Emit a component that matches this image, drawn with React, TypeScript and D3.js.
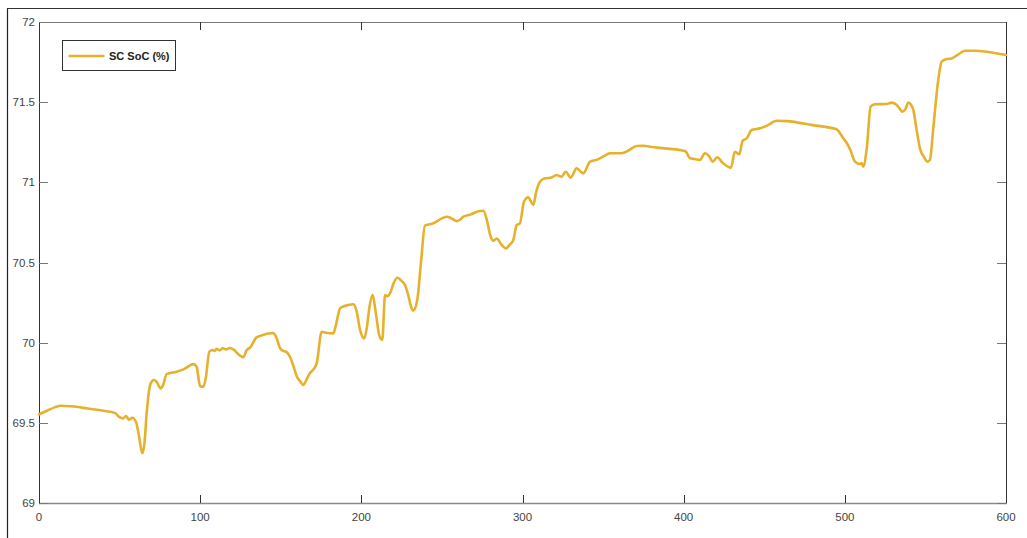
import React, { useEffect, useRef } from "react";
import * as d3 from "d3";

// Supercapacitor state of charge over time
const timeSec: number[] = [
  0, 5, 10, 14, 20, 30, 40, 47, 50, 52, 54, 55.8, 57.9, 60.2, 62, 64.1, 65.5, 66.8, 69.3, 71.4,
  73, 75.5, 77, 79.2, 85.4, 90, 95.8, 97.8, 99.9, 102, 103.5, 105.7, 107.8, 109, 110.2, 112, 114,
  116, 118.5, 121, 124, 126.8, 128.9, 131, 135, 139, 145, 147, 149.5, 151.6, 153, 155.7, 158,
  159.9, 162, 164, 166, 168.1, 170, 172.3, 175.4, 178, 182.6, 184, 186.8, 190, 195, 197, 199.2,
  201.8, 203.5, 205, 207, 208.5, 209.9, 211, 213, 214.7, 216, 217.8, 220, 222.3, 225, 227.1, 229,
  231, 232.3, 234.7, 237, 239.5, 244.7, 250, 253, 256, 259.2, 261, 263.3, 268, 272.6, 275.7, 278,
  280, 281.9, 284, 287, 289.8, 292, 294.3, 296.4, 298.4, 300.9, 303.6, 305, 306.7, 308.5, 310.8,
  314, 318, 321.2, 322.5, 324.3, 326.8, 329.9, 333.6, 337.7, 341.9, 346, 350, 354.3, 361.5, 366,
  370.8, 375, 379.1, 390, 399.8, 401.5, 403.9, 407, 410.1, 413.2, 416, 418, 420.8, 424.2, 429.3,
  431.8, 434.5, 436.6, 439.1, 442.2, 447.4, 452, 457.7, 463.9, 480, 494.9, 497, 499, 501.1, 503.5,
  506.3, 509.4, 510.5, 511.4, 513.6, 516, 518.7, 526, 529.1, 532.2, 534, 535.7, 537.5, 539.4, 541,
  542.5, 544.5, 546.6, 549, 551.4, 552.8, 555, 557.5, 560.1, 563.2, 566.3, 570, 574.5, 579.7, 600,
];

const socPct: number[] = [
  69.553, 69.575, 69.598, 69.607, 69.603, 69.59, 69.575, 69.562, 69.535, 69.527, 69.543, 69.52,
  69.532, 69.505, 69.42, 69.31, 69.38, 69.56, 69.746, 69.767, 69.755, 69.715, 69.735, 69.804,
  69.819, 69.835, 69.866, 69.85, 69.73, 69.725, 69.78, 69.944, 69.954, 69.948, 69.962, 69.952,
  69.965, 69.958, 69.967, 69.955, 69.925, 69.909, 69.954, 69.97, 70.033, 70.048, 70.06, 70.04,
  69.968, 69.948, 69.945, 69.912, 69.85, 69.79, 69.76, 69.736, 69.77, 69.81, 69.83, 69.871,
  70.068, 70.062, 70.058, 70.1, 70.214, 70.23, 70.24, 70.2, 70.08, 70.027, 70.1, 70.22, 70.297,
  70.22, 70.12, 70.05, 70.017, 70.297, 70.29, 70.308, 70.37, 70.405, 70.385, 70.36, 70.3, 70.22,
  70.2, 70.266, 70.5, 70.73, 70.745, 70.775, 70.785, 70.775, 70.758, 70.765, 70.786, 70.8, 70.82,
  70.823, 70.76, 70.67, 70.636, 70.65, 70.61, 70.588, 70.61, 70.64, 70.734, 70.744, 70.879,
  70.907, 70.885, 70.859, 70.94, 71.004, 71.025, 71.03, 71.046, 71.04, 71.035, 71.066, 71.029,
  71.087, 71.056, 71.129, 71.14, 71.16, 71.181, 71.181, 71.2, 71.227, 71.228, 71.222, 71.21,
  71.197, 71.19, 71.15, 71.145, 71.14, 71.181, 71.16, 71.129, 71.156, 71.122, 71.091, 71.191,
  71.175, 71.26, 71.274, 71.326, 71.337, 71.355, 71.384, 71.382, 71.357, 71.331, 71.306, 71.275,
  71.247, 71.2, 71.129, 71.114, 71.12, 71.098, 71.212, 71.472, 71.487, 71.489, 71.497, 71.482,
  71.46, 71.44, 71.455, 71.497, 71.485, 71.451, 71.33, 71.212, 71.16, 71.129, 71.14, 71.35, 71.6,
  71.753, 71.769, 71.773, 71.795, 71.821, 71.821, 71.794,
];

const xTicks: number[] = [0, 100, 200, 300, 400, 500, 600];
const yTicks: number[] = [69, 69.5, 70, 70.5, 71, 71.5, 72];
const yTickLabels: string[] = ["69", "69.5", "70", "70.5", "71", "71.5", "72"];
const seriesName = "SC SoC (%)";

const W = 1027;
const H = 538;
const plot = { left: 39, right: 1006, top: 22, bottom: 503 };
const lineColor = "#E6B12C";
const font = "Arial, 'Liberation Sans', Helvetica, sans-serif";

export default function App() {
  const ref = useRef<SVGSVGElement | null>(null);

  useEffect(() => {
    const svg = d3.select(ref.current);
    svg.selectAll("*").remove();

    const x = d3.scaleLinear().domain([0, 600]).range([plot.left, plot.right]);
    const y = d3.scaleLinear().domain([69, 72]).range([plot.bottom, plot.top]);

    svg.append("rect").attr("width", W).attr("height", H).attr("fill", "#fff");

    // outer figure frame
    svg.append("line").attr("x1", 7.5).attr("x2", 7.5).attr("y1", 8).attr("y2", H)
      .attr("stroke", "#222").attr("stroke-width", 1.2);
    svg.append("line").attr("x1", 7).attr("x2", W).attr("y1", 8.5).attr("y2", 8.5)
      .attr("stroke", "#333").attr("stroke-width", 1.2);

    // axes box
    const g = svg.append("g");
    g.append("line").attr("x1", plot.left + 0.5).attr("x2", plot.left + 0.5)
      .attr("y1", plot.top).attr("y2", plot.bottom).attr("stroke", "#333");
    g.append("line").attr("x1", plot.right + 0.5).attr("x2", plot.right + 0.5)
      .attr("y1", plot.top).attr("y2", plot.bottom).attr("stroke", "#333");
    g.append("line").attr("x1", plot.left).attr("x2", plot.right + 1)
      .attr("y1", plot.bottom + 0.5).attr("y2", plot.bottom + 0.5)
      .attr("stroke", "#8a8a8a").attr("stroke-width", 1.5);
    g.append("line").attr("x1", plot.left).attr("x2", plot.right + 1)
      .attr("y1", plot.top + 0.5).attr("y2", plot.top + 0.5)
      .attr("stroke", "#777").attr("stroke-width", 1.2);

    // x ticks (bottom and top, pointing inward)
    xTicks.forEach((t) => {
      const px = Math.round(x(t)) + 0.5;
      g.append("line").attr("x1", px).attr("x2", px)
        .attr("y1", plot.bottom).attr("y2", plot.bottom - 8).attr("stroke", "#333");
      g.append("line").attr("x1", px).attr("x2", px)
        .attr("y1", plot.top).attr("y2", plot.top + 8).attr("stroke", "#333");
      g.append("text").attr("x", x(t)).attr("y", plot.bottom + 18)
        .attr("text-anchor", "middle").attr("font-family", font).attr("font-size", 11.5)
        .attr("fill", "#444").text(String(t));
    });

    // y ticks (left and right, pointing inward)
    yTicks.forEach((t, i) => {
      const py = Math.round(y(t)) + 0.5;
      g.append("line").attr("x1", plot.left).attr("x2", plot.left + 9)
        .attr("y1", py).attr("y2", py).attr("stroke", "#777");
      g.append("line").attr("x1", plot.right).attr("x2", plot.right - 9)
        .attr("y1", py).attr("y2", py).attr("stroke", "#777");
      g.append("text").attr("x", plot.left - 4).attr("y", y(t)).attr("dy", "0.35em")
        .attr("text-anchor", "end").attr("font-family", font).attr("font-size", 11.5)
        .attr("fill", "#444").text(yTickLabels[i]);
    });

    // SoC trace
    const pts: [number, number][] = timeSec.map((t, i) => [t, socPct[i]]);
    const line = d3.line<[number, number]>()
      .x((d) => x(d[0]))
      .y((d) => y(d[1]))
      .curve(d3.curveMonotoneX);
    svg.append("path").datum(pts).attr("d", line)
      .attr("fill", "none").attr("stroke", lineColor).attr("stroke-width", 2.6)
      .attr("stroke-linejoin", "round").attr("stroke-linecap", "round");

    // legend
    const lg = svg.append("g");
    lg.append("rect").attr("x", 62.5).attr("y", 40.5).attr("width", 113).attr("height", 30)
      .attr("fill", "#fff").attr("stroke", "#333");
    lg.append("line").attr("x1", 68.5).attr("x2", 104.5).attr("y1", 56).attr("y2", 56)
      .attr("stroke", lineColor).attr("stroke-width", 2.6);
    lg.append("text").attr("x", 109).attr("y", 56).attr("dy", "0.35em")
      .attr("font-family", font).attr("font-size", 11).attr("font-weight", "bold")
      .attr("fill", "#222").text(seriesName);
  }, []);

  return (
    <svg
      ref={ref}
      width={W}
      height={H}
      style={{ position: "absolute", left: 0, top: 0, display: "block" }}
    />
  );
}
